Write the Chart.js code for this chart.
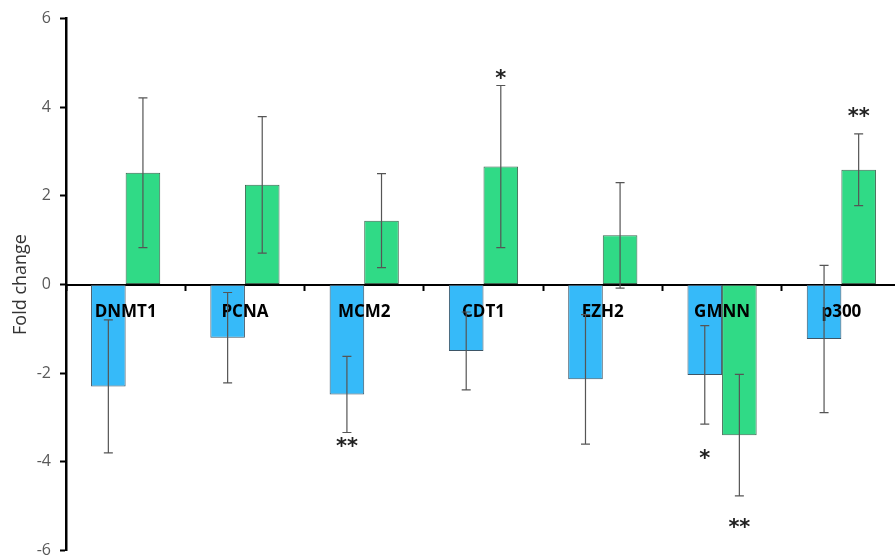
<!DOCTYPE html>
<html>
<head>
<meta charset="utf-8">
<script src="https://cdn.jsdelivr.net/npm/chart.js@4/dist/chart.umd.min.js"></script>
<style>
  html, body { margin: 0; padding: 0; background: #fff; overflow: hidden; }
  #wrap { width: 895px; height: 557px; overflow: hidden; }
</style>
</head>
<body>
<div id="wrap"><canvas id="chart" width="905" height="569"></canvas></div>
<script>
// genes on the x axis
const genes = ['DNMT1', 'PCNA', 'MCM2', 'CDT1', 'EZH2', 'GMNN', 'p300'];

// fold change, first series (blue) and its error
const blueValues = [-2.30, -1.20, -2.48, -1.50, -2.14, -2.04, -1.23];
const blueErrors = [1.50, 1.02, 0.86, 0.88, 1.46, 1.11, 1.66];

// fold change, second series (green) and its error
const greenValues = [2.52, 2.25, 1.44, 2.66, 1.11, -3.40, 2.59];
const greenErrors = [1.69, 1.54, 1.06, 1.83, 1.19, 1.37, 0.81];

// significance marks and where they sit (fold change units)
const blueSig = ['', '', '**', '', '', '*', ''];
const blueSigAt = [null, null, -3.56, null, null, -3.82, null];
const greenSig = ['', '', '', '*', '', '**', '**'];
const greenSigAt = [null, null, null, 4.75, null, -5.39, 3.89];

const yTicks = [-6, -4, -2, 0, 2, 4, 6];

// gene names sit over the bars, just under the zero line; error bars go on top
const overlay = {
  id: 'overlay',
  afterDatasetsDraw(chart) {
    const {ctx} = chart;
    const x = chart.scales.x;
    const y = chart.scales.y;
    const zero = y.getPixelForValue(0);

    ctx.save();
    ctx.font = 'bold 17px "Open Sans"';
    ctx.fillStyle = '#000';
    ctx.textAlign = 'center';
    ctx.textBaseline = 'middle';
    genes.forEach((g, i) => {
      ctx.fillText(g, x.getPixelForValue(i), zero + 28);
    });
    ctx.restore();

    chart.data.datasets.forEach((ds, di) => {
      const meta = chart.getDatasetMeta(di);
      meta.data.forEach((bar, i) => {
        const v = ds.data[i];
        const e = ds.errors[i];
        const top = y.getPixelForValue(v + e);
        const bot = y.getPixelForValue(v - e);
        ctx.save();
        ctx.strokeStyle = '#555';
        ctx.lineWidth = 1.2;
        ctx.beginPath();
        ctx.moveTo(bar.x, top);
        ctx.lineTo(bar.x, bot);
        ctx.moveTo(bar.x - 4.5, top);
        ctx.lineTo(bar.x + 4.5, top);
        ctx.moveTo(bar.x - 4.5, bot);
        ctx.lineTo(bar.x + 4.5, bot);
        ctx.stroke();
        ctx.restore();
      });
    });
  },
  afterDraw(chart) {
    const {ctx} = chart;
    const y = chart.scales.y;
    chart.data.datasets.forEach((ds, di) => {
      const meta = chart.getDatasetMeta(di);
      meta.data.forEach((bar, i) => {
        const s = ds.sig[i];
        if (!s) return;
        ctx.save();
        ctx.font = 'bold 21px "DejaVu Sans"';
        ctx.fillStyle = '#222';
        ctx.textAlign = 'center';
        ctx.textBaseline = 'alphabetic';
        const m = ctx.measureText(s);
        const target = y.getPixelForValue(ds.sigAt[i]);
        const base = target + (m.actualBoundingBoxAscent - m.actualBoundingBoxDescent) / 2;
        ctx.fillText(s, bar.x, base);
        ctx.restore();
      });
    });
  },
};

new Chart(document.getElementById('chart'), {
  type: 'bar',
  data: {
    labels: genes,
    datasets: [
      {
        data: blueValues,
        errors: blueErrors,
        sig: blueSig,
        sigAt: blueSigAt,
        backgroundColor: '#36BAF9',
        borderColor: '#3d5566',
        borderWidth: 1,
        borderSkipped: false,
      },
      {
        data: greenValues,
        errors: greenErrors,
        sig: greenSig,
        sigAt: greenSigAt,
        backgroundColor: '#30DA86',
        borderColor: '#3d6650',
        borderWidth: 1,
        borderSkipped: false,
      },
    ],
  },
  options: {
    responsive: false,
    animation: false,
    layout: {padding: {top: 8, left: 0, right: 4, bottom: 0}},
    categoryPercentage: 0.58,
    barPercentage: 1.0,
    plugins: {legend: {display: false}, tooltip: {enabled: false}},
    scales: {
      x: {
        type: 'category',
        position: {y: 0},
        grid: {
          drawOnChartArea: false,
          offset: true,
          tickLength: 5,
          tickColor: '#000',
          tickWidth: 2,
        },
        border: {color: '#000', width: 2},
        ticks: {display: false},
      },
      y: {
        min: -6,
        max: 6,
        afterFit(scale) {
          scale.width = 66;
        },
        afterBuildTicks(scale) {
          scale.ticks = yTicks.map((v) => ({value: v}));
        },
        grid: {
          drawOnChartArea: false,
          tickLength: 6,
          tickColor: '#000',
          tickWidth: 2,
        },
        border: {color: '#000', width: 2.5},
        ticks: {
          padding: 9,
          color: '#595959',
          font: {family: 'Open Sans', size: 16},
        },
        title: {
          display: true,
          text: 'Fold change',
          color: '#333',
          padding: {top: 10, bottom: 0},
          font: {family: 'Open Sans', size: 18},
        },
      },
    },
  },
  plugins: [overlay],
});
</script>
</body>
</html>
